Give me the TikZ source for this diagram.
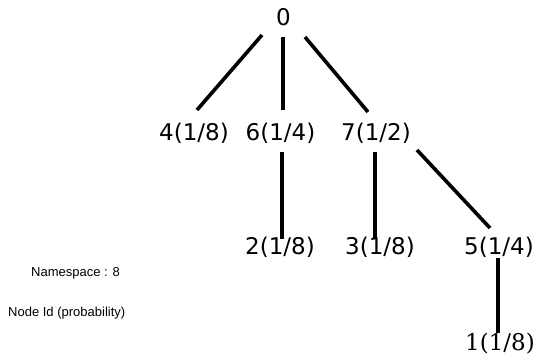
\documentclass[tikz,border=0pt]{standalone}
\usepackage{fontspec}
\setmainfont{DejaVu Sans}
\newfontfamily\serifdigits{DejaVu Serif}
\newfontfamily\legendfont{Liberation Sans}
\usetikzlibrary{calc}
\begin{document}
\begin{tikzpicture}[x=1pt,y=-1pt,
  lbl/.style={inner sep=0pt,font=\fontsize{23}{25}\selectfont},
  legend/.style={inner sep=0pt,anchor=west,font=\legendfont\fontsize{13}{15}\selectfont},
  edge/.style={line width=3.6pt}]
\useasboundingbox[fill=white] (0,0) rectangle (541,362);
\node[lbl] (n0) at (283.5,17) {0};
\node[lbl] (n4) at (194,133) {4(1/8)};
\node[lbl] (n6) at (280.5,133) {6(1/4)};
\node[lbl] (n7) at (376,133) {7(1/2)};
\node[lbl] (n2) at (280,247) {2(1/8)};
\node[lbl] (n3) at (380,247) {3(1/8)};
\node[lbl] (n5) at (499,247) {5(1/4)};
\node[lbl,font=\serifdigits\fontsize{23}{25}\selectfont] (n1) at (500,344) {1(1/8)};
\node[legend] (ns) at (31,273) {Namespace : 8};
\node[legend] (nid) at (8,313) {Node Id (probability)};
\draw[edge] ($(n0)+(-21.5,18)$) -- ($(n4)+(3,-23)$);
\draw[edge] ($(n0)+(-0.5,20)$) -- ($(n6)+(2.5,-23)$);
\draw[edge] ($(n0)+(21.5,20)$) -- ($(n7)+(-8,-21)$);
\draw[edge] ($(n6)+(1.5,19)$) -- ($(n2)+(2,-8)$);
\draw[edge] ($(n7)+(-1,19)$) -- ($(n3)+(-5,-8)$);
\draw[edge] ($(n7)+(41,17)$) -- ($(n5)+(-9,-19)$);
\draw[edge] ($(n5)+(-1,11)$) -- ($(n1)+(-2,-11)$);
\end{tikzpicture}
\end{document}
